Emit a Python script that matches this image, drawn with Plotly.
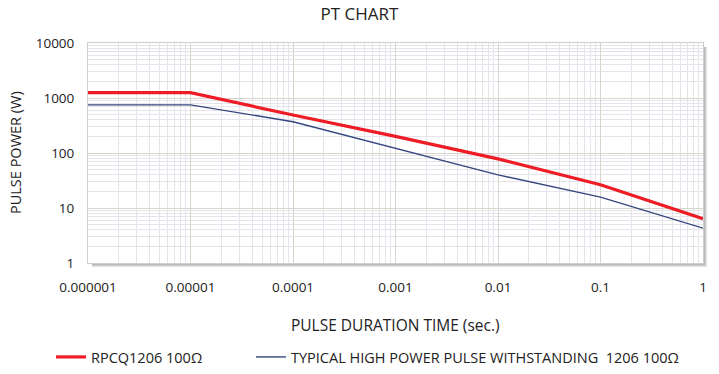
import plotly.graph_objects as go

time_s = [0.000001, 0.00001, 0.0001, 0.001, 0.01, 0.1, 1]
rpcq_power = [1250, 1250, 490, 200, 78, 26.5, 6.4]
typical_power = [750, 750, 370, 122, 40, 15.8, 4.3]
x_tickvals = [0.000001, 0.00001, 0.0001, 0.001, 0.01, 0.1, 1]
x_ticktext = ["0.000001", "0.00001", "0.0001", "0.001", "0.01", "0.1", "1"]
y_tickvals = [1, 10, 100, 1000, 10000]
y_ticktext = ["1", "10", "100", "1000", "10000"]

FONT = "Open Sans, Noto Sans, sans-serif"
W, H = 719, 374
L, R, T, B = 88, 16, 43, 111
pw = W - L - R
ph = H - T - B

fig = go.Figure()
fig.add_trace(go.Scatter(x=time_s, y=rpcq_power, mode="lines",
                         name="RPCQ1206 100Ω", legend="legend",
                         line=dict(color="#ee1c25", width=3.2)))
fig.add_trace(go.Scatter(x=time_s, y=typical_power, mode="lines",
                         name="TYPICAL HIGH POWER PULSE WITHSTANDING\u00a0 1206 100Ω",
                         legend="legend2",
                         line=dict(color="#34477f", width=1.4)))

axis_common = dict(
    type="log", showgrid=True, gridcolor="#dad5cc", gridwidth=1,
    showline=True, linecolor="#cfcfcf", linewidth=1, mirror=True,
    ticks="", zeroline=False, automargin=False,
    tickfont=dict(family=FONT, size=13.5, color="#222222"),
    minor=dict(dtick="D1", showgrid=True, gridcolor="#e4e4ea", gridwidth=1, ticks=""),
)

fig.update_xaxes(range=[-6, 0], tickvals=x_tickvals, ticktext=x_ticktext,
                 ticklabelstandoff=12, **axis_common)
fig.update_yaxes(range=[0, 4], tickvals=y_tickvals, ticktext=y_ticktext,
                 ticklabelstandoff=10, **axis_common)

# soft shadow strips on right and bottom of the plot area
sx = 1 / pw
sy = 1 / ph
for i, col in enumerate(["#b8b8b8", "#cdcdcd", "#e2e2e2"]):
    fig.add_shape(type="rect", xref="paper", yref="paper",
                  x0=1 + (1 + i) * sx, x1=1 + (2 + i) * sx, y0=-(2 + i) * sy, y1=1 - 4 * sy,
                  fillcolor=col, line=dict(width=0), layer="above")
    fig.add_shape(type="rect", xref="paper", yref="paper",
                  x0=4 * sx, x1=1 + (2 + i) * sx, y0=-(2 + i) * sy, y1=-(1 + i) * sy,
                  fillcolor=col, line=dict(width=0), layer="above")

legend_common = dict(orientation="h", xref="container", yref="container",
                     xanchor="left", y=1 - 357 / H, yanchor="middle",
                     font=dict(family=FONT, size=14.5, color="#222222"),
                     itemwidth=30, bgcolor="rgba(0,0,0,0)")

fig.update_layout(
    template="none",
    width=W, height=H,
    margin=dict(l=L, r=R, t=T, b=B, pad=0),
    paper_bgcolor="white", plot_bgcolor="white",
    title=dict(text="PT CHART", x=0.5, xanchor="center", xref="container",
               y=1 - 14 / H, yanchor="middle", yref="container",
               font=dict(family=FONT, size=17, color="#222222")),
    showlegend=True,
    legend=dict(x=51 / W, **legend_common),
    legend2=dict(x=251 / W, **legend_common),
    annotations=[
        dict(text="PULSE DURATION TIME (sec.)", xref="paper", yref="paper",
             x=0.5, y=-(325 - T - ph) / ph, xanchor="center", yanchor="middle",
             showarrow=False, font=dict(family=FONT, size=15.5, color="#222222")),
        dict(text="PULSE POWER (W)", xref="paper", yref="paper",
             x=-(L - 15) / pw, y=0.5, xanchor="center", yanchor="middle",
             textangle=-90, showarrow=False,
             font=dict(family=FONT, size=14.5, color="#222222")),
    ],
)

fig.write_html("out.html", config={"displayModeBar": False},
               post_script="document.body.style.margin='0';document.body.style.overflow='hidden';")
